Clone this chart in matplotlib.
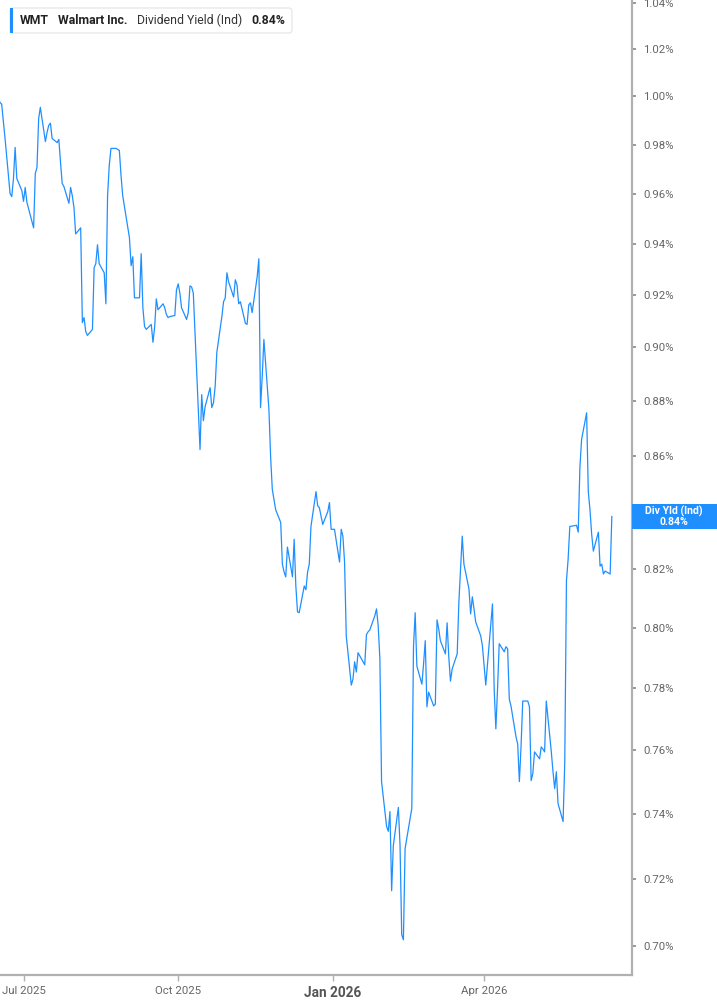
import matplotlib
matplotlib.use("Agg")
import matplotlib.pyplot as plt
import matplotlib.dates as mdates
from matplotlib.patches import FancyBboxPatch, Rectangle
from matplotlib.ticker import FixedLocator, NullLocator
import pandas as pd

# --- data: WMT indicated dividend yield (%), one value per trading day ---
start_date = "2025-06-17"
market_holidays = ["2025-06-19", "2025-07-04", "2025-09-01", "2025-11-27", "2025-12-25",
                   "2026-01-01", "2026-01-19", "2026-02-16", "2026-04-03", "2026-05-25"]

yield_pct = [
    0.9975, 0.9967, 0.9825, 0.9600, 0.9588, 0.9661, 0.9788, 0.9661, 0.9612, 0.9569,
    0.9625, 0.9565, 0.9463, 0.9682, 0.9706, 0.9908, 0.9954, 0.9812, 0.9850, 0.9879,
    0.9888, 0.9825, 0.9808, 0.9821, 0.9727, 0.9641, 0.9629, 0.9561, 0.9625, 0.9592,
    0.9545, 0.9439, 0.9463, 0.9094, 0.9113, 0.9060, 0.9045, 0.9068, 0.9306, 0.9322,
    0.9396, 0.9322, 0.9286, 0.9166, 0.9592, 0.9714, 0.9784, 0.9784, 0.9780, 0.9776,
    0.9673, 0.9592, 0.9424, 0.9314, 0.9349, 0.9189, 0.9189, 0.9361, 0.9151, 0.9079,
    0.9068, 0.9087, 0.9019, 0.9076, 0.9185, 0.9143, 0.9166, 0.9151, 0.9125, 0.9113,
    0.9117, 0.9121, 0.9220, 0.9243, 0.9208, 0.9151, 0.9106, 0.9132, 0.9235, 0.9231,
    0.9208, 0.8767, 0.8622, 0.8823, 0.8727, 0.8778, 0.8849, 0.8775, 0.8793, 0.8853,
    0.8981, 0.9117, 0.9174, 0.9189, 0.9286, 0.9251, 0.9192, 0.9259, 0.9239, 0.9166,
    0.9174, 0.9091, 0.9087, 0.9162, 0.9170, 0.9132, 0.9271, 0.9341, 0.8775, 0.8891,
    0.9030, 0.8767, 0.8596, 0.8479, 0.8407, 0.8362, 0.8217, 0.8190, 0.8173, 0.8276,
    0.8173, 0.8303, 0.8142, 0.8054, 0.8051, 0.8142, 0.8129, 0.8190, 0.8217, 0.8348,
    0.8471, 0.8421, 0.8414, 0.8355, 0.8400, 0.8432, 0.8338, 0.8338, 0.8224, 0.8338,
    0.8314, 0.8224, 0.7973, 0.7810, 0.7830, 0.7887, 0.7853, 0.7917, 0.7877, 0.7977,
    0.7987, 0.7993, 0.8041, 0.8064, 0.8007, 0.7897, 0.7500, 0.7360, 0.7345, 0.7406,
    0.7164, 0.7301, 0.7419, 0.7301, 0.7033, 0.7018, 0.7292, 0.7416, 0.7937, 0.8051,
    0.7873, 0.7813, 0.7880, 0.7957, 0.7739, 0.7787, 0.7742, 0.7748, 0.8027, 0.7997,
    0.7957, 0.7913, 0.8017, 0.7903, 0.7823, 0.7863, 0.7913, 0.8088, 0.8200, 0.8314,
    0.8217, 0.8132, 0.8047, 0.8105, 0.8064, 0.8020, 0.7973, 0.7940, 0.7873, 0.7810,
    0.8081, 0.7797, 0.7668, 0.7797, 0.7947, 0.7920, 0.7937, 0.7930, 0.7764, 0.7742,
    0.7642, 0.7619, 0.7500, 0.7613, 0.7758, 0.7758, 0.7739, 0.7503, 0.7525, 0.7594,
    0.7572, 0.7610, 0.7603, 0.7594, 0.7758, 0.7594, 0.7531, 0.7478, 0.7531, 0.7431,
    0.7375, 0.7562, 0.8159, 0.8234, 0.8348, 0.8352, 0.8328, 0.8557, 0.8658, 0.8756,
    0.8471, 0.8407, 0.8321, 0.8262, 0.8328, 0.8210, 0.8217, 0.8183, 0.8193, 0.8183,
    0.8383,
]

y_ticks = [0.70, 0.72, 0.74, 0.76, 0.78, 0.80, 0.82, 0.84, 0.86, 0.88,
           0.90, 0.92, 0.94, 0.96, 0.98, 1.00, 1.02, 1.04]
x_ticks = ["2025-07-01", "2025-10-01", "2026-01-01", "2026-04-01"]
x_labels = ["Jul 2025", "Oct 2025", "Jan 2026", "Apr 2026"]

ticker = "WMT"
company = "Walmart Inc."
metric = "Dividend Yield (Ind)"
short_metric = "Div Yld (Ind)"

dates = pd.bdate_range(start_date, periods=len(yield_pct), freq="C", holidays=market_holidays)
last_val = yield_pct[-1]

# --- styling ---
LINE = "#1f8fff"
GREY = "#666666"
SPINE = "#b0b0b0"
plt.rcParams["font.family"] = ["Roboto", "DejaVu Sans"]

W, H = 717, 1005
fig = plt.figure(figsize=(W / 100, H / 100), dpi=100)
ax = fig.add_axes([0, 30 / H, 632 / W, 975 / H])

ax.plot(dates, yield_pct, color=LINE, lw=0.9, solid_joinstyle="round")

ax.set_yscale("log")
ax.set_ylim(0.6915, 1.0413)
ax.set_xlim(pd.Timestamp("2025-06-17"), pd.Timestamp("2026-06-28"))

# the tick label hidden under the last-value tag is left blank
tag_tick = round(last_val, 2)
ax.yaxis.set_major_locator(FixedLocator(y_ticks))
ax.yaxis.set_minor_locator(NullLocator())
ax.set_yticklabels(["" if abs(t - tag_tick) < 1e-9 else f"{t:.2f}%" for t in y_ticks])
ax.yaxis.tick_right()
ax.tick_params(axis="y", which="major", direction="out", length=3, width=1.2,
               color="#888888", labelcolor=GREY, labelsize=8.2, pad=5)

ax.set_xticks([mdates.date2num(pd.Timestamp(d)) for d in x_ticks])
ax.set_xticklabels(x_labels)
ax.tick_params(axis="x", direction="out", length=4, width=1.0, color=SPINE,
               labelcolor=GREY, labelsize=8.2, pad=4)
for lab in ax.get_xticklabels():
    if lab.get_text() == "Jan 2026":
        lab.set_fontweight("bold")
        lab.set_fontsize(9.8)
        lab.set_color("#555555")

for side in ["left", "top"]:
    ax.spines[side].set_visible(False)
for side in ["right", "bottom"]:
    ax.spines[side].set_color(SPINE)
    ax.spines[side].set_linewidth(1.6)

# --- legend box at top left ---
box = FancyBboxPatch((10 / W, 1 - 33 / H), 282 / W, 25 / H,
                     boxstyle="round,pad=0,rounding_size=0.004",
                     transform=fig.transFigure, fc="white", ec="#e4e4e4", lw=0.8)
fig.patches.append(box)
fig.patches.append(Rectangle((10 / W, 1 - 33 / H), 3 / W, 25 / H,
                             transform=fig.transFigure, fc=LINE, ec="none"))
ty = 1 - 20.5 / H
fig.text(20 / W, ty, ticker, fontsize=8.8, fontweight="bold", color="#222222", va="center")
fig.text(58 / W, ty, company, fontsize=8.8, fontweight="bold", color="#222222", va="center")
fig.text(137 / W, ty, metric, fontsize=8.8, color="#333333", va="center")
fig.text(251 / W, ty, f"{last_val:.2f}%", fontsize=8.8, fontweight="bold",
         color="#222222", va="center")

# --- last value tag on the right axis ---
fig.canvas.draw()
py = ax.transData.transform((mdates.date2num(dates[-1]), last_val))[1]
fy = py / H
fig.patches.append(Rectangle((632 / W, fy - 12.5 / H), 85 / W, 25 / H,
                             transform=fig.transFigure, fc=LINE, ec="none"))
fig.text(674 / W, fy, f"{short_metric}\n{last_val:.2f}%", fontsize=7.6, fontweight="bold",
         color="white", ha="center", va="center", multialignment="center", linespacing=1.05)

fig.savefig("out.png", dpi=100, facecolor="white")
